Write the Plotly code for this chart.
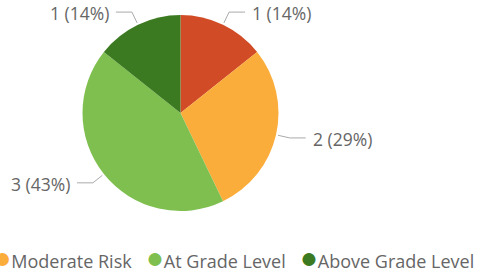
import math
import plotly.graph_objects as go

# ---- data ----
categories = ["High Risk", "Moderate Risk", "At Grade Level", "Above Grade Level"]
counts = [1, 2, 3, 1]
colors = ["#D14B26", "#FBAD3B", "#7FBF4F", "#3C7A21"]

# ---- geometry (pixels) ----
W, H = 479, 275
CX, CY, R = 180.5, 113, 98
FONT = "Open Sans"
TXT = "#666666"
LINE = "#AAAAAA"


def px(x):
    return x / W


def py(y):
    return 1 - y / H


fig = go.Figure(
    go.Pie(
        labels=categories,
        values=counts,
        marker=dict(colors=colors, line=dict(width=0)),
        sort=False,
        direction="clockwise",
        rotation=0,
        textinfo="none",
        showlegend=False,
        domain=dict(x=[px(CX - R), px(CX + R)], y=[py(CY + R), py(CY - R)]),
    )
)

total = sum(counts)
shapes, annotations = [], []
cum = 0
for v in counts:
    mid = (cum + v / 2) / total * 2 * math.pi
    cum += v
    s, c = math.sin(mid), math.cos(mid)
    side = 1 if s >= 0 else -1
    x0, y0 = CX + (R + 2) * s, CY - (R + 2) * c
    x1, y1 = CX + (R + 14) * s, CY - (R + 14) * c
    x2 = x1 + side * 16
    shapes.append(dict(
        type="path", xref="paper", yref="paper",
        path=f"M {px(x0)},{py(y0)} L {px(x1)},{py(y1)} L {px(x2)},{py(y1)}",
        line=dict(color=LINE, width=1),
    ))
    label = f"{v} ({round(100 * v / total)}%)"
    annotations.append(dict(
        x=px(x2 + side * 5), y=py(y1 + 1), xref="paper", yref="paper",
        text=label, showarrow=False,
        xanchor="left" if side > 0 else "right", yanchor="middle",
        font=dict(family=FONT, size=17.5, color=TXT),
    ))

# legend line (flows right-to-left, left part runs off the canvas)
parts = []
for name, col in zip(categories, colors):
    parts.append(f"<span style='color:{col};font-size:30px'>●</span>{name}")
legend_text = "\u00a0\u00a0\u00a0".join(parts)
annotations.append(dict(
    x=px(476), y=py(256), xref="paper", yref="paper",
    text=legend_text, showarrow=False, xanchor="right", yanchor="middle",
    font=dict(family=FONT, size=18, color=TXT),
))

fig.update_layout(
    width=W, height=H,
    margin=dict(l=0, r=0, t=0, b=0),
    paper_bgcolor="white", plot_bgcolor="white",
    shapes=shapes, annotations=annotations,
)

fig.write_html(
    "out.html",
    config={"displayModeBar": False},
    post_script="document.body.style.margin='0';",
)
